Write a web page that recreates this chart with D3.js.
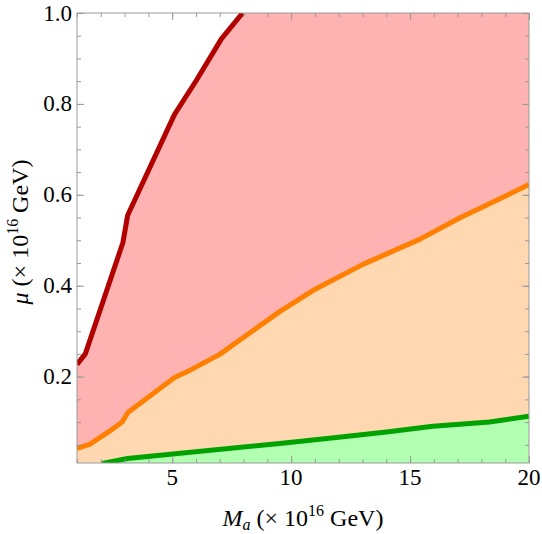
<!DOCTYPE html>
<html>
<head>
<meta charset="utf-8">
<script src="https://cdn.jsdelivr.net/npm/d3@7"></script>
<style>
  body { margin: 0; background: #fff; }
</style>
</head>
<body>
<svg id="svg" width="542" height="534"></svg>
<script>
//Curve data: [M_a, mu] in units of 1e16 GeV
const redCurve = [[1, 0.227], [1.35, 0.25], [2.93, 0.495], [3.13, 0.555], [5.1, 0.777],
  [6.02, 0.852], [7.07, 0.943], [7.96, 1.0]];
const orangeCurve = [[1, 0.042], [1.53, 0.051], [2.37, 0.080], [2.9, 0.100], [3.14, 0.121],
  [5.1, 0.198], [5.6, 0.210], [7.0, 0.249], [9.52, 0.343], [11.03, 0.393], [13.02, 0.447],
  [15.4, 0.502], [17.08, 0.549], [19.04, 0.598], [20, 0.623]];
const greenCurve = [[2.07, 0.009], [3.12, 0.020], [9.52, 0.053], [11.9, 0.066], [14.0, 0.078],
  [15.96, 0.091], [18.34, 0.100], [20, 0.113]];

const xTicks = [5, 10, 15, 20];
const yTicks = [0.2, 0.4, 0.6, 0.8, 1.0];

const serif = 'Liberation Serif';
const tickSize = 23;
const labelSize = 24;
const smallSize = 16;

const svg = d3.select('#svg');

//Margins - plot box spans px 77..529 by 13..463
const margin = { top: 13, right: 13, bottom: 71, left: 77 };
const width = +svg.attr('width');
const height = +svg.attr('height');
const innerWidth = width - margin.left - margin.right;
const innerHeight = height - margin.top - margin.bottom;

const xScale = d3.scaleLinear().domain([1, 20]).range([0, innerWidth]);
const yScale = d3.scaleLinear().domain([0.01, 1.0]).range([innerHeight, 0]);

const g = svg.append('g')
  .attr('transform', `translate(${margin.left},${margin.top})`);

//Clip fills/lines to plot box
g.append('clipPath').attr('id', 'clip')
  .append('rect').attr('width', innerWidth).attr('height', innerHeight);

const plot = g.append('g').attr('clip-path', 'url(#clip)');

//Area under a curve down to bottom of box
const area = d3.area()
  .x(d => xScale(d[0]))
  .y0(innerHeight + 2)
  .y1(d => yScale(d[1]));

const line = d3.line()
  .x(d => xScale(d[0]))
  .y(d => yScale(d[1]));

//Pink region - everything right of red curve (pad out to top right corner)
plot.append('path')
  .datum(redCurve.concat([[21, 1.0]]))
  .attr('fill', '#ffb2b2')
  .attr('d', area);

plot.append('path')
  .datum(orangeCurve)
  .attr('fill', '#ffd8b2')
  .attr('d', area);

plot.append('path')
  .datum(greenCurve)
  .attr('fill', '#b2ffb2')
  .attr('d', area);

//Boundary lines
const curves = [
  { data: redCurve, color: '#b00000' },
  { data: orangeCurve, color: '#ff8000' },
  { data: greenCurve, color: '#00a200' }
];
curves.forEach(c => {
  plot.append('path')
    .datum(c.data)
    .attr('fill', 'none')
    .attr('stroke', c.color)
    .attr('stroke-width', 5)
    .attr('stroke-linejoin', 'round')
    .attr('d', line);
});

//Frame - inward ticks on all 4 sides, no labels on top/right
const frameColor = '#999';
const xMinor = d3.range(1, 20.01, 1);
const yMinor = d3.range(0.05, 1.001, 0.05);

const tickAxis = (axisFn, scale, vals, size) => axisFn(scale)
  .tickValues(vals).tickSize(size).tickSizeOuter(0).tickFormat('');

const frameAxes = [
  { fn: d3.axisBottom, scale: xScale, major: xTicks, minor: xMinor, tr: `translate(0,${innerHeight})` },
  { fn: d3.axisTop, scale: xScale, major: xTicks, minor: xMinor, tr: 'translate(0,0)' },
  { fn: d3.axisLeft, scale: yScale, major: yTicks, minor: yMinor, tr: 'translate(0,0)' },
  { fn: d3.axisRight, scale: yScale, major: yTicks, minor: yMinor, tr: `translate(${innerWidth},0)` }
];
//negative size = ticks pointing inward
frameAxes.forEach(a => {
  const minorG = g.append('g').attr('transform', a.tr)
    .call(tickAxis(a.fn, a.scale, a.minor, -4));
  const majorG = g.append('g').attr('transform', a.tr)
    .call(tickAxis(a.fn, a.scale, a.major, -7));
  [minorG, majorG].forEach(s => {
    s.selectAll('line').attr('stroke', frameColor);
    s.selectAll('.domain').remove();
  });
});

g.append('rect')
  .attr('width', innerWidth).attr('height', innerHeight)
  .attr('fill', 'none').attr('stroke', frameColor).attr('stroke-width', 1);

//Tick labels
g.selectAll('.xlab').data(xTicks).enter().append('text')
  .attr('x', d => xScale(d))
  .attr('y', innerHeight + 22)
  .attr('text-anchor', 'middle')
  .attr('font-family', serif)
  .attr('font-size', tickSize)
  .text(d => d);

g.selectAll('.ylab').data(yTicks).enter().append('text')
  .attr('x', -5)
  .attr('y', d => yScale(d) + 7.5)
  .attr('text-anchor', 'end')
  .attr('font-family', serif)
  .attr('font-size', tickSize)
  .text(d => d3.format('.1f')(d));

//x-axis label: M_a (× 10^16 GeV)
const xLabel = svg.append('text')
  .attr('x', margin.left + innerWidth / 2)
  .attr('y', 526)
  .attr('text-anchor', 'middle')
  .attr('font-family', serif)
  .attr('font-size', labelSize);
xLabel.append('tspan').attr('font-style', 'italic').text('M');
xLabel.append('tspan').attr('font-style', 'italic').attr('font-size', smallSize)
  .attr('dy', 4).text('a');
xLabel.append('tspan').attr('dy', -4).text(' (× 10');
xLabel.append('tspan').attr('font-size', smallSize).attr('dy', -10).text('16');
xLabel.append('tspan').attr('dy', 10).text(' GeV)');

//y-axis label: mu (× 10^16 GeV), rotated
const yLabel = svg.append('text')
  .attr('transform', 'translate(28,232) rotate(-90)')
  .attr('text-anchor', 'middle')
  .attr('font-family', serif)
  .attr('font-size', labelSize);
yLabel.append('tspan').attr('font-style', 'italic').text('μ');
yLabel.append('tspan').text(' (× 10');
yLabel.append('tspan').attr('font-size', smallSize).attr('dy', -10).text('16');
yLabel.append('tspan').attr('dy', 10).text(' GeV)');
</script>
</body>
</html>
